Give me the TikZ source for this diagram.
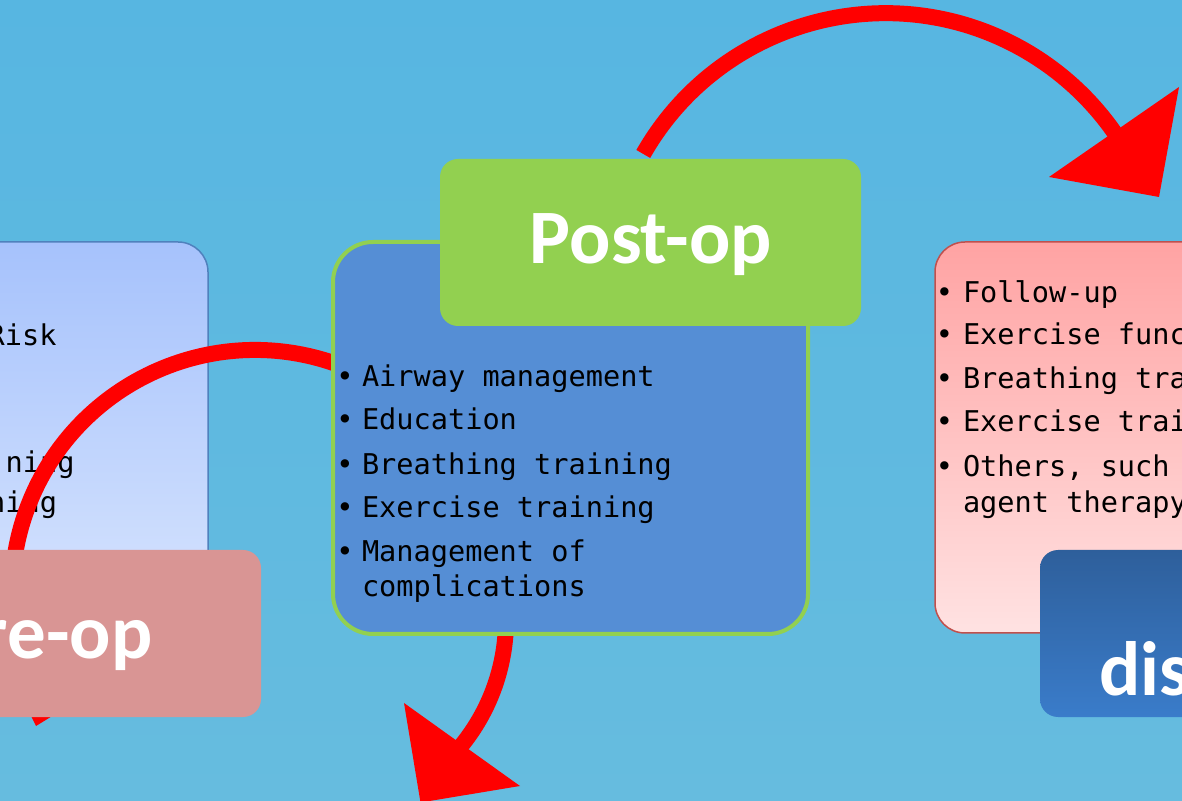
\documentclass[tikz,border=0pt]{standalone}
\usepackage{fontspec}
\usetikzlibrary{calc}
\newfontfamily\bodyfont{DejaVu Sans Mono}
\newfontfamily\titlefont{Carlito}
\definecolor{bgtop}{RGB}{87,182,225}
\definecolor{bgbot}{RGB}{102,188,223}
\definecolor{lefttop}{RGB}{166,194,252}
\definecolor{leftbot}{RGB}{216,229,254}
\definecolor{leftline}{RGB}{79,129,189}
\definecolor{prefill}{RGB}{217,149,148}
\definecolor{midfill}{RGB}{85,142,213}
\definecolor{midline}{RGB}{146,208,80}
\definecolor{postfill}{RGB}{146,208,80}
\definecolor{righttop}{RGB}{255,163,163}
\definecolor{rightbot}{RGB}{255,226,226}
\definecolor{rightline}{RGB}{192,80,77}
\definecolor{distop}{RGB}{46,95,155}
\definecolor{disbot}{RGB}{58,124,202}
\definecolor{arrowred}{RGB}{255,0,0}
\begin{document}
\begin{tikzpicture}[x=1pt,y=1pt,
  panel/.style={rectangle, inner sep=0pt, outer sep=0pt},
  body/.style={inner sep=0pt, outer sep=0pt, font=\bodyfont\fontsize{28.6pt}{34pt}\selectfont, text=black},
  title/.style={inner sep=0pt, outer sep=0pt, font=\titlefont\bfseries\fontsize{77pt}{90pt}\selectfont, text=white},
  shaft/.style={draw=arrowred, line width=16pt},
  head/.style={fill=arrowred}]
\useasboundingbox (0,0) rectangle (1182,800);
\clip (0,0) rectangle (1182,800);
\shade[top color=bgtop, bottom color=bgbot] (0,0) rectangle (1182,800);

% ---------- Pre-op content box (left) ----------
\node[panel, draw=leftline, line width=1.5pt, rounded corners=30pt, top color=lefttop, bottom color=leftbot,
      minimum width=248pt, minimum height=391pt] (prebox) at (84,362.5) {};
\node[body, anchor=base east] (pre1) at (56.5,454) {Risk};
\node[body, anchor=base east] (pre2) at (74.6,327) {ning};
\node[body, anchor=base east] (pre3) at (57,287) {ning};

% ---------- arrow from Post-op box to Pre-op (behind middle box) ----------
\coordinate (c2) at (255,207);
\coordinate (h2a) at (-4,154);
\coordinate (h2b) at (166,154);
\coordinate (h2t) at (36,74);
\draw[shaft] ($(c2)+(70:243)$) arc[start angle=70, end angle=194, radius=243];
\fill[head] (h2a) -- (h2b) -- (h2t) -- cycle;

% ---------- Pre-op label ----------
\node[panel, fill=prefill, rounded corners=18pt, minimum width=301pt, minimum height=167pt] (prelabel) at (110.5,166.5) {};
\node[title, anchor=base west] (pretext) at (-19,141) {re-op};

% ---------- arrow below middle box ----------
\coordinate (c3) at (307,180);
\coordinate (h3a) at (404,97);
\coordinate (h3b) at (520,14);
\coordinate (h3t) at (420.5,-2.5);
\draw[shaft] ($(c3)+(5:199)$) arc[start angle=5, end angle=-41, radius=199];
\fill[head] (h3a) -- (h3b) -- (h3t) -- cycle;

% ---------- middle box ----------
\node[panel, draw=midline, line width=4pt, fill=midfill, rounded corners=40pt,
      minimum width=475pt, minimum height=392pt] (midbox) at (570.5,362) {};
\foreach \n/\yy/\tx in {1/413/{Airway management}, 2/370/{Education}, 3/325/{Breathing training}, 4/282/{Exercise training}, 5/238/{Management of}} {
  \node[body, anchor=base] (midbul\n) at (345,\yy) {•};
  \node[body, anchor=base west] (miditem\n) at (362,\yy) {\tx};
}
\node[body, anchor=base west] (miditem6) at (362,203) {complications};

% ---------- top arrow ----------
\coordinate (c1) at (885.6,507.8);
\coordinate (h1a) at (1179,713);
\coordinate (h1b) at (1049,623);
\coordinate (h1t) at (1159,603);
\draw[shaft] ($(c1)+(150.3:279)$) arc[start angle=150.3, end angle=33, radius=279];
\fill[head] (h1a) -- (h1b) -- (h1t) -- cycle;

% ---------- Post-op label ----------
\node[panel, fill=postfill, rounded corners=18pt, minimum width=421pt, minimum height=167pt] (postlabel) at (650.5,557.5) {};
\node[title, anchor=base] (posttext) at (651,536) {Post-op};

% ---------- right box ----------
\node[panel, draw=rightline, line width=1.5pt, rounded corners=30pt, top color=righttop, bottom color=rightbot,
      minimum width=295pt, minimum height=391pt] (disbox) at (1082.5,362.5) {};
\foreach \n/\yy/\tx in {1/497/{Follow-up}, 2/455/{Exercise func}, 3/411/{Breathing tra}, 4/368/{Exercise trai}, 5/323/{Others, such}} {
  \node[body, anchor=base] (disbul\n) at (944.5,\yy) {•};
  \node[body, anchor=base west] (disitem\n) at (963,\yy) {\tx};
}
\node[body, anchor=base west] (disitem6) at (963,287) {agent therapy};

% ---------- dis label ----------
\node[panel, top color=distop, bottom color=disbot, rounded corners=18pt, minimum width=200pt, minimum height=167pt] (dislabel) at (1140,166.5) {};
\node[title, anchor=base west] (distext) at (1099,104) {dis};
\end{tikzpicture}
\end{document}
